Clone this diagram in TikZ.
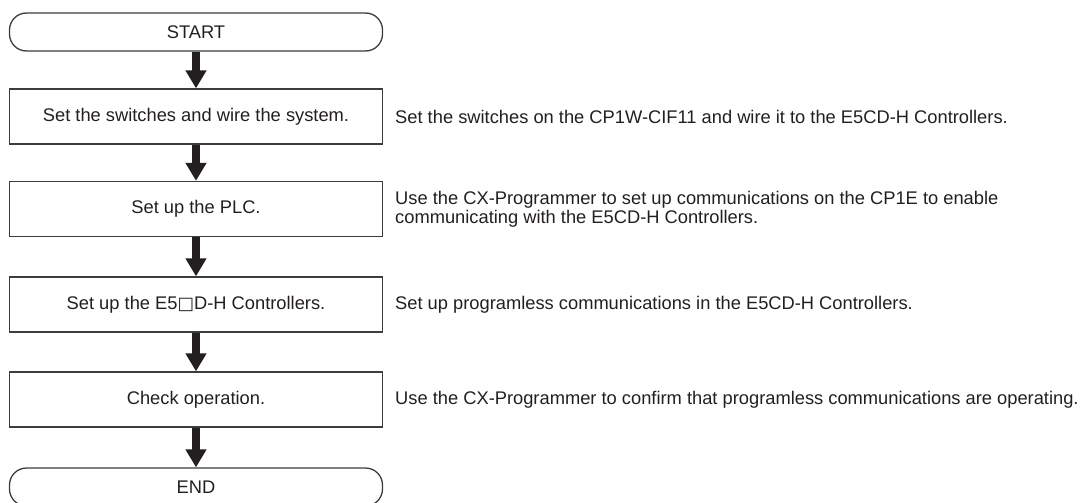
\documentclass[tikz,border=0pt]{standalone}
\usepackage{fontspec}
\setmainfont{Liberation Sans}
\newfontfamily\symfont{DejaVu Sans}
\usetikzlibrary{arrows.meta}
\definecolor{ink}{HTML}{231F20}
\definecolor{edge}{HTML}{3C3C3C}
\begin{document}
\begin{tikzpicture}[x=1pt,y=-1pt,
  every node/.style={font=\fontsize{18.3}{19}\selectfont, text=ink},
  procbox/.style={draw=edge, line width=1.3pt, minimum width=373pt, minimum height=55pt, inner sep=0pt},
  termbox/.style={draw=edge, line width=1.3pt, rounded corners=17pt, minimum width=373pt, minimum height=38pt, inner sep=0pt},
  flowarrow/.style={draw=ink, line width=8pt, -{Triangle[width=20pt,length=18pt]}},
  note/.style={anchor=west, align=left, inner sep=0pt}]
\useasboundingbox (0,0) rectangle (1085,503);
\node[termbox] (start) at (196,32) {START};
\node[procbox] (b1) at (196,116.5) {Set the switches and wire the system.};
\node[procbox] (b2) at (196,209) {Set up the PLC.};
\node[procbox] (b3) at (196,304.5) {Set up the E5{\symfont\fontsize{17.5}{17.5}\selectfont □}D-H Controllers.};
\node[procbox] (b4) at (196,399.5) {Check operation.};
\node[termbox] (end) at (196,487) {END};
\draw[flowarrow] (start.south) -- (b1.north);
\draw[flowarrow] (b1.south) -- (b2.north);
\draw[flowarrow] (b2.south) -- (b3.north);
\draw[flowarrow] (b3.south) -- (b4.north);
\draw[flowarrow] (b4.south) -- (end.north);
\node[note] (n1) at (395,116.5) {Set the switches on the CP1W-CIF11 and wire it to the E5CD-H Controllers.};
\node[note] (n2) at (395,209) {Use the CX-Programmer to set up communications on the CP1E to enable\\communicating with the E5CD-H Controllers.};
\node[note] (n3) at (395,304.5) {Set up programless communications in the E5CD-H Controllers.};
\node[note] (n4) at (395,399.5) {Use the CX-Programmer to confirm that programless communications are operating.};
\end{tikzpicture}
\end{document}
